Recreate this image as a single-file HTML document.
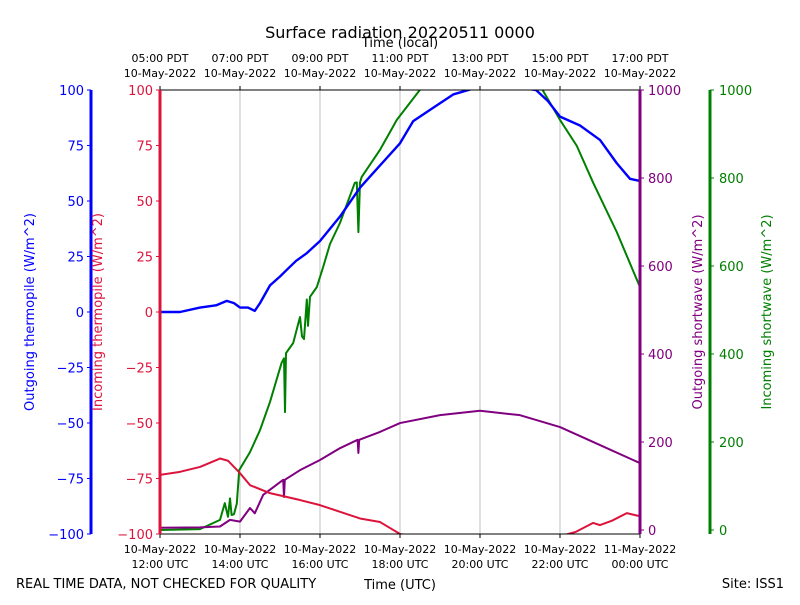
<!DOCTYPE html>
<html><head><meta charset="utf-8"><style>
body{margin:0;background:#fff}
svg{font-family:"DejaVu Sans","Liberation Sans",sans-serif}
</style></head><body>
<svg id="c" width="800" height="600"></svg>
<script>
const hours=[0,2,4,6,8,10,12];
const topLabels=["05:00 PDT","07:00 PDT","09:00 PDT","11:00 PDT","13:00 PDT","15:00 PDT","17:00 PDT"];
const topDates=["10-May-2022","10-May-2022","10-May-2022","10-May-2022","10-May-2022","10-May-2022","10-May-2022"];
const botLabels=["12:00 UTC","14:00 UTC","16:00 UTC","18:00 UTC","20:00 UTC","22:00 UTC","00:00 UTC"];
const botDates=["10-May-2022","10-May-2022","10-May-2022","10-May-2022","10-May-2022","10-May-2022","11-May-2022"];
const leftTicks=[-100,-75,-50,-25,0,25,50,75,100];
const rightTicks=[0,200,400,600,800,1000];
const blueT=[0,0.5,1,1.4,1.67,1.85,2,2.2,2.37,2.5,2.75,3,3.17,3.4,3.67,4,4.5,5,5.5,6,6.33,6.83,7.33,7.9,8.5,9,9.4,9.7,10,10.5,11,11.42,11.75,12];
const blueV=[0,0,2,3,5,4,2,2,0.5,4,12,16,19,23,26.5,32,43,56,66,76,86,92,98,101,101,101,100,95,88,84,77.5,67,60,59];
const redT=[0,0.5,1,1.5,1.7,2,2.25,2.75,3.5,4,4.5,5,5.5,6,6.33];
const redV=[-73.4,-72,-69.8,-66,-67,-72.6,-78,-81.6,-84.7,-87,-90,-93,-94.6,-100,-101];
const red2T=[10,10.4,10.83,11,11.3,11.67,12];
const red2V=[-101,-99,-95,-96,-94,-90.6,-92];
const purpleT=[0,1,1.5,1.75,2,2.25,2.37,2.58,3.08,3.1,3.12,3.5,4,4.5,4.94,4.96,4.98,5.5,6,7,8,9,10,11,12];
const purpleV=[5,6,8,23,19,50,38,80,114,75,114,136,159,186,205,175,205,223,243,261,271,261,234,193,152];
const greenT=[0,1,1.5,1.62,1.7,1.75,1.79,1.85,1.92,1.98,2.25,2.5,2.75,3.04,3.1,3.125,3.15,3.33,3.5,3.55,3.6,3.67,3.7,3.75,3.92,4.08,4.25,4.5,4.87,4.92,4.96,5.0,5.04,5.5,5.92,6.58,9.5,10,10.42,10.83,11.42,12];
const greenV=[0,2,23,61,30,72,34,36,60,136,177,227,291,380,390,268,402,425,484,440,434,524,464,530,552,598,650,698,789,790,677,790,802,864,932,1010,1010,932,873,789,677,552];
const S="http://www.w3.org/2000/svg",svg=document.getElementById('c');
const X0=160,X1=640,Y0=90,Y1=534;
const xs=t=>X0+t*(X1-X0)/12;
const yl=v=>312-v*(Y1-Y0)/200;
const yr=v=>530-v*0.44;
function el(tag,a,txt){const e=document.createElementNS(S,tag);for(const k in a)e.setAttribute(k,a[k]);if(txt!=null)e.textContent=txt;svg.appendChild(e);return e;}
function tx(x,y,s,o){return el('text',Object.assign({x:x,y:y,'font-size':12,fill:'#000'},o||{}),s);}
el('defs',{}).innerHTML='<clipPath id="pc"><rect x="160" y="90" width="480" height="444"/></clipPath>';
hours.slice(1,-1).forEach(h=>{const g=el('line',{x1:xs(h),x2:xs(h),y1:Y0,y2:Y1,stroke:'#b0b0b0','stroke-width':0.8});

});
function line(T,V,ysc,col,name,w){const p=el('polyline',{points:T.map((t,i)=>xs(t)+','+ysc(V[i])).join(' '),fill:'none',stroke:col,'stroke-width':w||2,'stroke-linejoin':'round','clip-path':'url(#pc)'});

}
line(greenT,greenV,yr,'#008000','incoming-shortwave-line');
line(purpleT,purpleV,yr,'#800080','outgoing-shortwave-line');
line(redT,redV,yl,'#dc143c','incoming-thermopile-line');
line(red2T,red2V,yl,'#dc143c','incoming-thermopile-line-2');
line(blueT,blueV,yl,'#0000ff','outgoing-thermopile-line',2.4);
el('line',{x1:X0,x2:X1,y1:Y0,y2:Y0,stroke:'#000'});
el('line',{x1:X0,x2:X1,y1:Y1,y2:Y1,stroke:'#000'});
el('line',{x1:X0,x2:X0,y1:Y0,y2:Y1,stroke:'#dc143c','stroke-width':3});
el('line',{x1:91,x2:91,y1:Y0,y2:Y1,stroke:'#0000ff','stroke-width':3});
el('line',{x1:X1,x2:X1,y1:Y0,y2:Y1,stroke:'#800080','stroke-width':3});
el('line',{x1:710,x2:710,y1:Y0,y2:Y1,stroke:'#008000','stroke-width':3});
hours.forEach((h,i)=>{const x=xs(h);
el('line',{x1:x,x2:x,y1:Y1,y2:Y1+4,stroke:'#000'});el('line',{x1:x,x2:x,y1:Y0,y2:Y0-4,stroke:'#000'});
tx(x,553,botDates[i],{'text-anchor':'middle','font-size':11});tx(x,568,botLabels[i],{'text-anchor':'middle','font-size':11});
tx(x,62,topLabels[i],{'text-anchor':'middle','font-size':11});tx(x,77,topDates[i],{'text-anchor':'middle','font-size':11});});
leftTicks.forEach(v=>{const y=yl(v);
el('line',{x1:87,x2:91,y1:y,y2:y,stroke:'#0000ff'});tx(84,y+5,String(v).replace('-','\u2212'),{'text-anchor':'end',fill:'#0000ff','font-size':13});
el('line',{x1:156,x2:160,y1:y,y2:y,stroke:'#dc143c'});tx(153,y+5,String(v).replace('-','\u2212'),{'text-anchor':'end',fill:'#dc143c','font-size':13});});
rightTicks.forEach(v=>{const y=yr(v);
el('line',{x1:640,x2:644,y1:y,y2:y,stroke:'#800080'});tx(648,y+5,v,{fill:'#800080','font-size':13});
el('line',{x1:710,x2:714,y1:y,y2:y,stroke:'#008000'});tx(719,y+5,v,{fill:'#008000','font-size':13});});
tx(400,38,'Surface radiation 20220511 0000',{'text-anchor':'middle','font-size':16});
tx(400,47,'Time (local)',{'text-anchor':'middle','font-size':13});
tx(400,589,'Time (UTC)',{'text-anchor':'middle','font-size':13});
tx(16,588,'REAL TIME DATA, NOT CHECKED FOR QUALITY',{'font-size':13});
tx(784,588,'Site: ISS1',{'text-anchor':'end','font-size':13});
tx(0,0,'Outgoing thermopile (W/m^2)',{transform:'translate(34,312) rotate(-90)','text-anchor':'middle',fill:'#0000ff','font-size':13});
tx(0,0,'Incoming thermopile (W/m^2)',{transform:'translate(102,312) rotate(-90)','text-anchor':'middle',fill:'#dc143c','font-size':13});
tx(0,0,'Outgoing shortwave (W/m^2)',{transform:'translate(702,312) rotate(-90)','text-anchor':'middle',fill:'#800080','font-size':13});
tx(0,0,'Incoming shortwave (W/m^2)',{transform:'translate(771,312) rotate(-90)','text-anchor':'middle',fill:'#008000','font-size':13});
</script>
</body></html>
